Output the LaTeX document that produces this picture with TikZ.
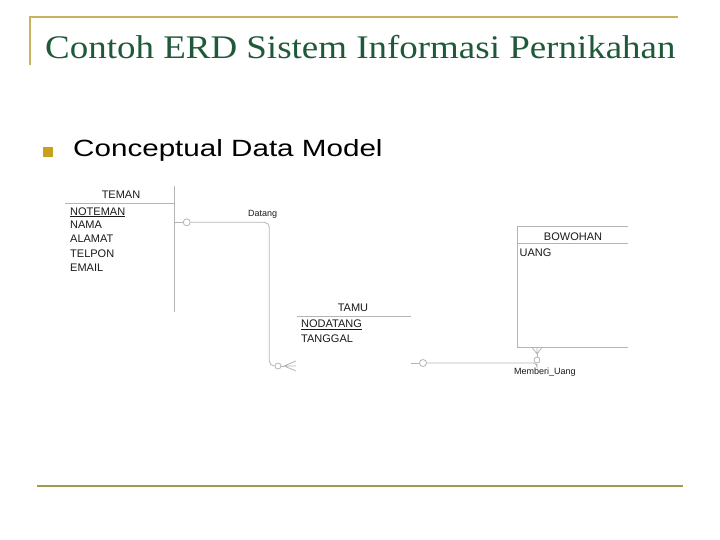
\documentclass[tikz,border=0pt]{standalone}
\usepackage{fontspec}
\setmainfont{Liberation Serif}
\newfontfamily\erdfont{Liberation Sans}
\newfontfamily\punktfont[FakeStretch=1.26]{Liberation Sans}
\newfontfamily\titelfont[FakeStretch=1.12]{Liberation Serif}

\definecolor{titelgruen}{HTML}{1E5A3A}
\definecolor{goldlinie}{HTML}{C8B45A}
\definecolor{olivlinie}{HTML}{A09A50}
\definecolor{punktgold}{HTML}{C8A020}
\definecolor{erdlinie}{HTML}{B4B4B4}

\tikzset{
  attr/.style={anchor=base west, inner sep=0pt, text=black!90, font=\erdfont\fontsize{11}{11}\selectfont},
  kopf/.style={anchor=base, inner sep=0pt, text=black!90, font=\erdfont\fontsize{11}{11}\selectfont},
  rel/.style={draw=erdlinie, line width=0.8pt},
  rellabel/.style={anchor=base west, inner sep=0pt, text=black!90, font=\erdfont\fontsize{9}{9}\selectfont},
  kreis/.style={circle, draw=erdlinie, fill=white, line width=0.8pt, inner sep=0pt, minimum size=7pt},
}

\begin{document}
\begin{tikzpicture}[x=1pt, y=-1pt]
\useasboundingbox (0,0) rectangle (720,540);

% Rahmen
\draw[goldlinie, line width=2pt] (30,65) -- (30,17.3) -- (678,17.3); % oben
\draw[olivlinie, line width=2.2pt] (37,486) -- (683,486); % unten

% Titel
\node[anchor=base west, inner sep=0pt, text=titelgruen, font=\titelfont\fontsize{33}{33}\selectfont] (titel) at (45,58.3) {Contoh ERD Sistem Informasi Pernikahan};

\node[fill=punktgold, minimum size=10pt, inner sep=0pt] (punkt) at (48,152) {};
\node[anchor=base west, inner sep=0pt, font=\punktfont\fontsize{23.5}{23.5}\selectfont] (cdm) at (73,157) {Conceptual Data Model};

% Entitaet TEMAN
\draw[rel] (65,203.3) -- (174.3,203.3);
\draw[rel] (174.3,186) -- (174.3,311.7);
\node[kopf] (teman) at (121,199) {TEMAN};
\node[attr] (noteman) at (70,215) {\underline{NOTEMAN}};
\node[attr] (nama) at (70,228.8) {NAMA};
\node[attr] (alamat) at (70,243) {ALAMAT};
\node[attr] (telpon) at (70,257) {TELPON};
\node[attr] (email) at (70,271.5) {EMAIL};

% Entitaet TAMU
\draw[rel] (296.7,316) -- (410.7,316);
\node[kopf] (tamu) at (353,311.7) {TAMU};
\node[attr] (nodatang) at (301,327.7) {\underline{NODATANG}};
\node[attr] (tanggal) at (301,342.3) {TANGGAL};

% Entitaet BOWOHAN
\draw[rel] (627.7,226) -- (517.7,226) -- (517.7,347.3) -- (627.7,347.3);
\draw[rel] (517.7,243.3) -- (627.7,243.3);
\node[kopf] (bowohan) at (573,240.7) {BOWOHAN};
\node[attr] (uang) at (519.5,256) {UANG};

% Relation Datang
\coordinate (temanR) at (174.3,222.3);
\coordinate (knick1) at (269.3,366);
\coordinate (fuss1) at (284,366);
\node[kreis] (kreis1) at (186.7,222.3) {};
\node[kreis, minimum size=6pt] (kreis2) at (278,366) {};
\draw[rel] (temanR) -- (kreis1);
\draw[rel, rounded corners=5pt] (kreis1.east) -| (knick1) -- (kreis2.west);
\draw[rel] (kreis2.east) -- (fuss1);
\draw[rel] (fuss1) -- ++(12,-5) (fuss1) -- ++(12,0) (fuss1) -- ++(12,5);
\node[rellabel] (datang) at (248,216.7) {Datang};

% Relation Memberi_Uang
\coordinate (tamuR) at (410.7,363);
\coordinate (fuss2) at (537,354);
\node[kreis] (kreis3) at (423,363) {};
\node[kreis, minimum size=6pt] (kreis4) at (537,360) {};
\draw[rel] (tamuR) -- (kreis3);
\draw[rel, rounded corners=4pt] (kreis3.east) -| (kreis4.south);
\draw[rel] (kreis4.north) -- (fuss2);
\draw[rel] (fuss2) -- ++(-5,-6.7) (fuss2) -- ++(0,-6.7) (fuss2) -- ++(5,-6.7);
\node[rellabel] (memberi) at (514,374) {Memberi\_Uang};

\end{tikzpicture}
\end{document}
